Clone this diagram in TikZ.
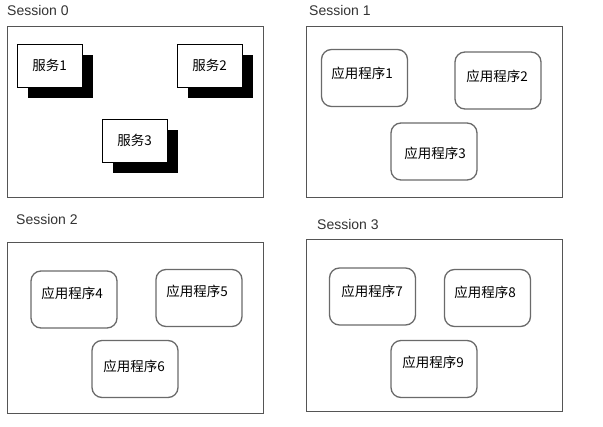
\documentclass[tikz,border=0pt]{standalone}
\usepackage{fontspec}
\setmainfont{Liberation Sans}
\newfontfamily\cjk{Noto Sans CJK SC}
\usetikzlibrary{shadows}
\definecolor{sessgray}{HTML}{555555}
\definecolor{appgray}{HTML}{6A6A6A}
\definecolor{labelgray}{HTML}{333333}
\begin{document}
\begin{tikzpicture}[x=1pt,y=-1pt,
  sessbox/.style={draw=sessgray,line width=1pt,minimum width=256pt,minimum height=171pt,inner sep=0pt},
  sesslabel/.style={anchor=west,inner sep=0pt,text=labelgray,font=\fontsize{14}{16}\selectfont},
  svcbox/.style={draw=black,line width=0.8pt,fill=white,minimum width=65pt,minimum height=43pt,inner sep=0pt,
    font=\cjk\fontsize{13.5}{15}\selectfont,
    drop shadow={shadow xshift=11pt,shadow yshift=-11pt,fill=black,opacity=1}},
  appbox/.style={draw=appgray,line width=1.3pt,rounded corners=10pt,minimum width=86pt,minimum height=57pt,inner sep=0pt},
  apptext/.style={inner sep=0pt,font=\cjk\fontsize{13.5}{15}\selectfont}]
\useasboundingbox[fill=white] (0,0) rectangle (603,427);
% Session 0
\node[sesslabel] (l0) at (7,11) {Session 0};
\node[sessbox] (s0) at (135,112.5) {};
\node[svcbox] (sv1) at (49.5,65.5) {服务1};
\node[svcbox] (sv2) at (209.5,65.5) {服务2};
\node[svcbox] (sv3) at (134.5,140.5) {服务3};
% Session 1
\node[sesslabel] (l1) at (309,11) {Session 1};
\node[sessbox] (s1) at (434,112.5) {};
\node[appbox] (a1) at (364.5,78) {};
\node[apptext] (t1) at (362,73) {应用程序1};
\node[appbox] (a2) at (498,80.5) {};
\node[apptext] (t2) at (497,76) {应用程序2};
\node[appbox] (a3) at (434,151.5) {};
\node[apptext] (t3) at (435,153) {应用程序3};
% Session 2
\node[sesslabel] (l2) at (16,219) {Session 2};
\node[sessbox] (s2) at (135,328.5) {};
\node[appbox] (a4) at (74,299.5) {};
\node[apptext] (t4) at (72,293) {应用程序4};
\node[appbox] (a5) at (199,298) {};
\node[apptext] (t5) at (197,291) {应用程序5};
\node[appbox] (a6) at (135,369) {};
\node[apptext] (t6) at (134,366) {应用程序6};
% Session 3
\node[sesslabel] (l3) at (317,224) {Session 3};
\node[sessbox,minimum height=172pt] (s3) at (434,326) {};
\node[appbox] (a7) at (372.5,296.5) {};
\node[apptext] (t7) at (372,291) {应用程序7};
\node[appbox] (a8) at (487.5,298) {};
\node[apptext] (t8) at (485,292) {应用程序8};
\node[appbox] (a9) at (434,369) {};
\node[apptext] (t9) at (433,362) {应用程序9};
\end{tikzpicture}
\end{document}
